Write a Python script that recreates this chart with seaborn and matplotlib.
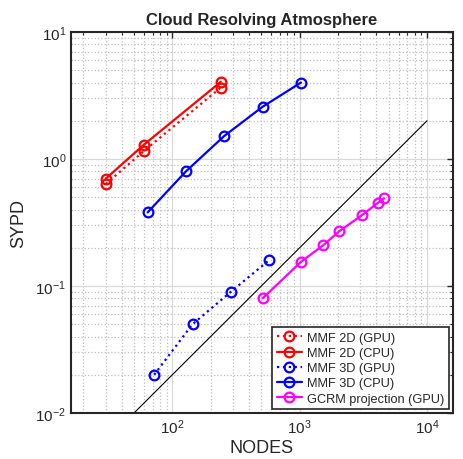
import matplotlib
matplotlib.use("Agg")
import matplotlib.pyplot as plt
import seaborn as sns
import pandas as pd
from matplotlib.ticker import LogLocator, NullFormatter

# ---- data ----
mmf2d_gpu_x = [30, 60, 240]
mmf2d_gpu_y = [0.635, 1.16, 3.65]
mmf2d_cpu_x = [30, 60, 240]
mmf2d_cpu_y = [0.70, 1.30, 4.05]
mmf3d_gpu_x = [72, 144, 288, 576]
mmf3d_gpu_y = [0.020, 0.050, 0.090, 0.160]
mmf3d_cpu_x = [64, 128, 256, 512, 1024]
mmf3d_cpu_y = [0.38, 0.80, 1.52, 2.58, 4.0]
gcrm_x = [512, 1024, 1536, 2048, 3072, 4096, 4608]
gcrm_y = [0.080, 0.155, 0.21, 0.27, 0.36, 0.45, 0.49]
ideal_x = [50, 10000]
ideal_y = [0.01, 2.0]

labels = ["MMF 2D (GPU)", "MMF 2D (CPU)", "MMF 3D (GPU)", "MMF 3D (CPU)", "GCRM projection (GPU)"]
title = "Cloud Resolving Atmosphere"
xlabel = "NODES"
ylabel = "SYPD"

sns.set_theme(style="white")
plt.rcParams['font.family'] = ['Liberation Sans', 'DejaVu Sans']
plt.rcParams['mathtext.fontset'] = 'custom'
plt.rcParams['mathtext.rm'] = 'Liberation Sans'

fig = plt.figure(figsize=(4.63, 4.60), dpi=100)
ax = fig.add_axes([71/463, 1-414/460, 382/463, 381/460])

series = [
    (mmf2d_gpu_x, mmf2d_gpu_y, labels[0], "#ff0000", ":"),
    (mmf2d_cpu_x, mmf2d_cpu_y, labels[1], "#ff0000", "-"),
    (mmf3d_gpu_x, mmf3d_gpu_y, labels[2], "#0000ff", ":"),
    (mmf3d_cpu_x, mmf3d_cpu_y, labels[3], "#0000ff", "-"),
    (gcrm_x, gcrm_y, labels[4], "#ff00ff", "-"),
]

for xs, ys, lab, col, ls in series:
    df = pd.DataFrame({"x": xs, "y": ys})
    sns.lineplot(data=df, x="x", y="y", ax=ax, color=col, linestyle=ls,
                 linewidth=1.6, marker="o", markersize=7, markerfacecolor="none",
                 markeredgecolor=col, markeredgewidth=1.6, label=lab)

df_ideal = pd.DataFrame({"x": ideal_x, "y": ideal_y})
sns.lineplot(data=df_ideal, x="x", y="y", ax=ax, color="black", linewidth=0.8, legend=False)

ax.set_xscale("log")
ax.set_yscale("log")
ax.set_xlim(16, 16000)
ax.set_ylim(0.01, 10)

ax.xaxis.set_major_locator(LogLocator(base=10, numticks=10))
ax.yaxis.set_major_locator(LogLocator(base=10, numticks=10))
ax.xaxis.set_minor_locator(LogLocator(base=10, subs=range(2, 10), numticks=20))
ax.yaxis.set_minor_locator(LogLocator(base=10, subs=range(2, 10), numticks=20))
ax.xaxis.set_minor_formatter(NullFormatter())
ax.yaxis.set_minor_formatter(NullFormatter())

ax.grid(True, which="major", color="#d9d9d9", linestyle="-", linewidth=0.9)
ax.grid(True, which="minor", color="#bfbfbf", linestyle=":", linewidth=0.9)
ax.set_axisbelow(True)

ax.tick_params(which="both", direction="in", top=True, right=True, colors="#262626",
               labelsize=11)
ax.tick_params(which="major", length=4, width=1.0)
ax.tick_params(which="minor", length=2.5, width=0.8)
for s in ax.spines.values():
    s.set_color("#262626")
    s.set_linewidth(1.5)

ax.set_title(title, fontsize=12, fontweight="bold", pad=6)
ax.set_xlabel(xlabel, fontsize=13, color="#262626", labelpad=2)
ax.set_ylabel(ylabel, fontsize=13, color="#262626", labelpad=6)

leg = ax.legend(loc="lower right", fontsize=9.2, handlelength=2.0, handletextpad=0.4,
                borderpad=0.35, labelspacing=0.25, fancybox=False, framealpha=1,
                edgecolor="#262626", borderaxespad=0.3)
leg.get_frame().set_linewidth(1.2)

fig.savefig("out.png", dpi=100)
